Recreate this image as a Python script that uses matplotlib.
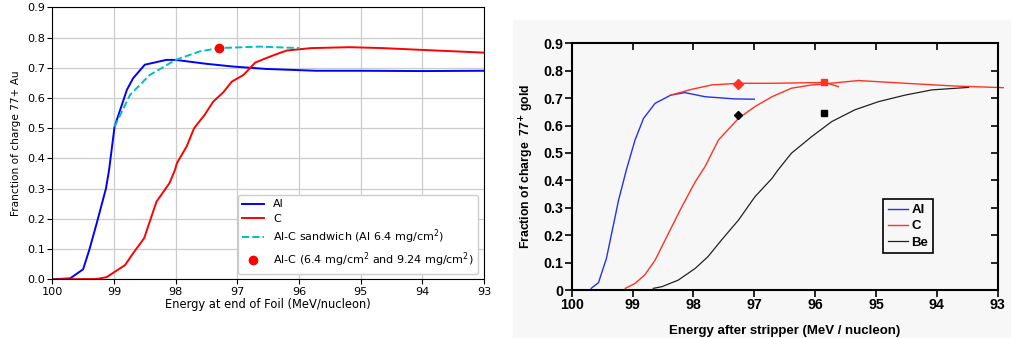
import numpy as np
import matplotlib
matplotlib.use('Agg')
import matplotlib.pyplot as plt
from matplotlib.patches import Rectangle

# left panel: simulated curves (energy at end of foil, fraction 77+)
al_E = [100.0, 99.71, 99.50, 99.40, 99.28, 99.13, 99.08, 98.99, 98.79, 98.69, 98.50,
        98.15, 98.00, 97.50, 97.07, 96.53, 95.72, 95.0, 94.0, 93.0]
al_f = [0.0, 0.003, 0.033, 0.097, 0.185, 0.30, 0.36, 0.505, 0.627, 0.665, 0.71,
        0.726, 0.726, 0.713, 0.704, 0.696, 0.69, 0.69, 0.689, 0.69]

c_E = [100.0, 99.28, 99.12, 98.82, 98.69, 98.51, 98.31, 98.10, 98.01, 97.98, 97.82,
       97.70, 97.53, 97.39, 97.23, 97.09, 96.90, 96.71, 96.53, 96.39, 96.20, 95.80,
       95.18, 94.64, 94.0, 93.0]
c_f = [0.0, 0.001, 0.007, 0.047, 0.086, 0.136, 0.257, 0.318, 0.362, 0.384, 0.44,
       0.50, 0.544, 0.588, 0.618, 0.654, 0.676, 0.717, 0.732, 0.743, 0.757, 0.765,
       0.768, 0.765, 0.759, 0.75]

alc_E = [98.99, 98.74, 98.42, 98.00, 97.61, 97.30, 96.63, 95.99]
alc_f = [0.505, 0.61, 0.676, 0.726, 0.754, 0.765, 0.77, 0.765]

pt_E = [97.30]
pt_f = [0.765]

# right panel: measured / published curves (energy after stripper)
r_al_E = [99.68, 99.56, 99.43, 99.23, 99.10, 98.96, 98.82, 98.63, 98.37, 98.14,
          97.81, 97.32, 97.0]
r_al_f = [0.006, 0.027, 0.115, 0.328, 0.44, 0.547, 0.626, 0.681, 0.711, 0.72,
          0.705, 0.697, 0.696]

r_c_E = [99.12, 98.96, 98.80, 98.63, 98.41, 98.19, 97.97, 97.81, 97.59, 97.26,
         96.99, 96.71, 96.39, 96.06, 95.84, 95.29, 94.52, 93.70, 92.91]
r_c_f = [0.006, 0.024, 0.055, 0.109, 0.207, 0.304, 0.395, 0.45, 0.547, 0.626,
         0.669, 0.705, 0.736, 0.748, 0.752, 0.764, 0.754, 0.744, 0.738]

r_alc_E = [98.37, 98.03, 97.70, 97.26, 96.71, 95.84, 95.62]
r_alc_f = [0.711, 0.732, 0.748, 0.754, 0.754, 0.757, 0.742]

r_be_E = [98.66, 98.52, 98.25, 97.97, 97.76, 97.54, 97.26, 96.99, 96.71, 96.61,
          96.39, 96.06, 95.73, 95.35, 94.96, 94.52, 94.08, 93.48]
r_be_f = [0.006, 0.012, 0.036, 0.079, 0.122, 0.182, 0.255, 0.34, 0.407, 0.438,
          0.499, 0.559, 0.614, 0.657, 0.687, 0.711, 0.73, 0.739]

red_mk_E = [97.26, 95.85]
red_mk_f = [0.752, 0.757]
blk_mk_E = [97.26, 95.85]
blk_mk_f = [0.638, 0.645]

xticks = [100, 99, 98, 97, 96, 95, 94, 93]
yticks = [0.0, 0.1, 0.2, 0.3, 0.4, 0.5, 0.6, 0.7, 0.8, 0.9]

fig = plt.figure(figsize=(10.11, 3.38), dpi=100)

# ---------- left panel
fs = 8.3
ax1 = fig.add_axes([0.0517, 0.1737, 0.427, 0.8047])
ax1.plot(al_E, al_f, color='blue', lw=1.4, label='Al')
ax1.plot(c_E, c_f, color='red', lw=1.4, label='C')
ax1.plot(alc_E, alc_f, color='c', lw=1.4, ls='--', label='Al-C sandwich (Al 6.4 mg/cm$^2$)')
ax1.plot(pt_E, pt_f, 'o', color='red', ms=6, label='Al-C (6.4 mg/cm$^2$ and 9.24 mg/cm$^2$)')
ax1.set_xlim(100, 93)
ax1.set_ylim(0, 0.9)
ax1.set_xticks(xticks)
ax1.set_yticks(yticks)
ax1.set_yticklabels(['%.1f' % v for v in yticks])
ax1.grid(True, color='#cccccc', lw=0.9)
ax1.set_axisbelow(True)
ax1.tick_params(labelsize=8.1, length=3.5, pad=2)
ax1.set_xlabel('Energy at end of Foil (MeV/nucleon)', fontsize=fs, labelpad=1)
ax1.set_ylabel('Franction of charge 77+ Au', fontsize=7.6, labelpad=4)
ax1.legend(loc='lower right', fontsize=8, framealpha=1, fancybox=True,
           labelspacing=0.38, borderpad=0.4)

# ---------- right panel (scanned figure)
bg = '#f7f7f7'
fig.patches.append(Rectangle((513 / 1011, 0), 498 / 1011, 318 / 338,
                             transform=fig.transFigure, color=bg, zorder=-5))
rfont = {'family': 'Liberation Sans', 'weight': 'bold'}
ax2 = fig.add_axes([0.5655, 0.142, 0.4214, 0.73])
ax2.set_zorder(2)
ax2.set_facecolor(bg)
ax2.plot(r_al_E, r_al_f, color='#2233ee', lw=1.0, label='Al')
ax2.plot(r_c_E, r_c_f, color='#ff3322', lw=1.0, label='C', clip_on=False)
ax2.plot(r_alc_E, r_alc_f, color='#ff3322', lw=1.0)
ax2.plot(r_be_E, r_be_f, color='#222222', lw=0.9, label='Be')
ax2.plot(red_mk_E[:1], red_mk_f[:1], 'D', color='#ff3322', ms=5)
ax2.plot(red_mk_E[1:], red_mk_f[1:], 's', color='#ff3322', ms=5)
ax2.plot(blk_mk_E[:1], blk_mk_f[:1], 'D', color='black', ms=4)
ax2.plot(blk_mk_E[1:], blk_mk_f[1:], 's', color='black', ms=4)
ax2.set_xlim(100, 93)
ax2.set_ylim(0, 0.9)
ax2.set_xticks(xticks)
ax2.set_yticks(yticks)
ax2.set_yticklabels(['0'] + ['%.1f' % v for v in yticks[1:]], **rfont, fontsize=10.3)
ax2.set_xticklabels([str(v) for v in xticks], **rfont, fontsize=10.3)
for s in ax2.spines.values():
    s.set_linewidth(1.5)
ax2.tick_params(direction='out', length=5, width=1.2, pad=1, top=True, right=True)
for t in ax2.xaxis.get_major_ticks():
    t.tick2line.set_marker(3)  # inward tick on top
for t in ax2.yaxis.get_major_ticks():
    t.tick2line.set_marker(0)  # inward tick on right
ax2.set_xlabel('Energy after stripper (MeV / nucleon)', **rfont, fontsize=9.5, labelpad=9)
ax2.set_ylabel('Fraction of charge  77$^{\\mathbf{+}}$ gold', **rfont, fontsize=8.8, labelpad=5)
leg = ax2.legend(loc='lower left', bbox_to_anchor=(0.731, 0.149), borderaxespad=0,
                 prop={'family': 'Liberation Sans', 'weight': 'bold', 'size': 9.5},
                 fancybox=False, edgecolor='black', facecolor=bg, framealpha=1,
                 handlelength=1.5, handletextpad=0.3, labelspacing=0.3,
                 borderpad=0.35)
leg.get_frame().set_linewidth(1.2)

fig.savefig('out.png', dpi=100)
